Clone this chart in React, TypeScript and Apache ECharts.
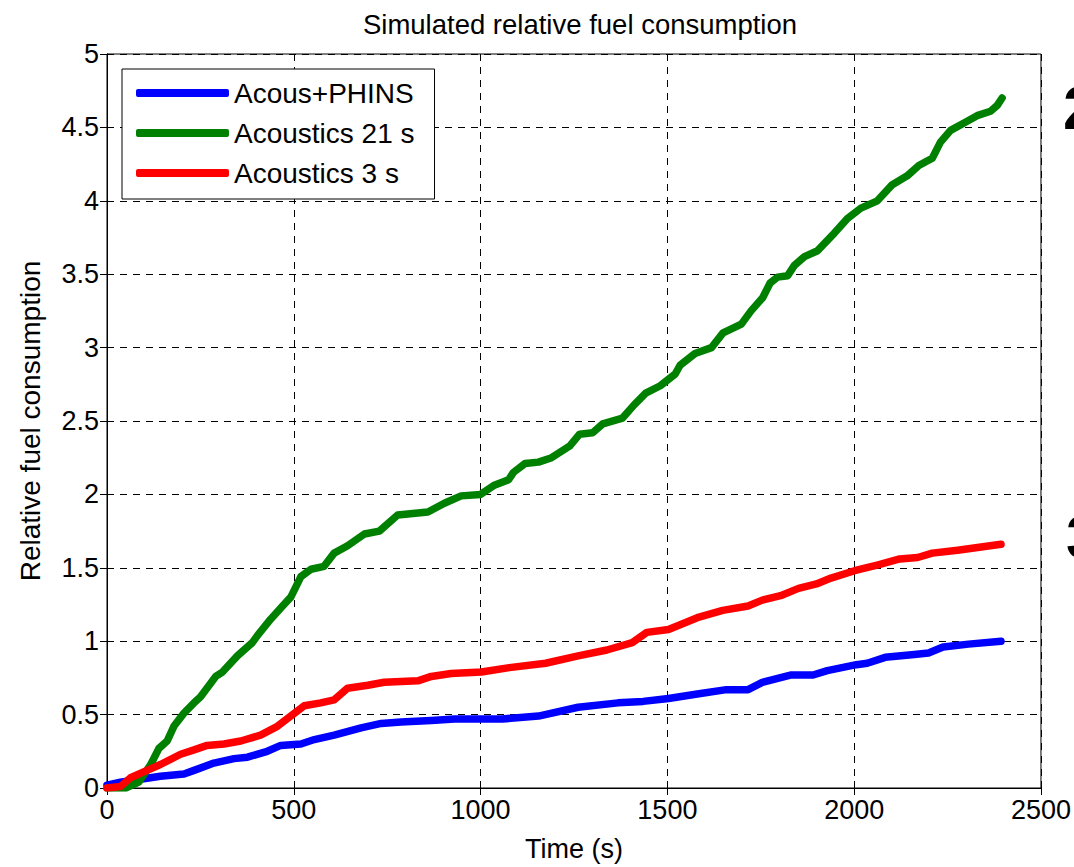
import React, { useEffect, useRef } from "react";
import * as echarts from "echarts";

const titleText = "Simulated relative fuel consumption";
const xName = "Time (s)";
const yName = "Relative fuel consumption";
const seriesNames = ["Acous+PHINS", "Acoustics 21 s", "Acoustics 3 s"];
const seriesColors = ["#0000FF", "#008000", "#FF0000"];

const blueT = [0, 36, 89, 143, 206, 233, 286, 340, 376, 429, 465, 519, 555, 608, 680, 734, 787, 868, 930, 1000, 1058, 1155, 1261, 1368, 1435, 1503, 1580, 1658, 1716, 1754, 1832, 1890, 1928, 2006, 2035, 2083, 2161, 2199, 2238, 2306, 2393];
const blueV = [0.02, 0.04, 0.06, 0.08, 0.095, 0.12, 0.17, 0.2, 0.21, 0.25, 0.29, 0.3, 0.33, 0.36, 0.41, 0.44, 0.45, 0.46, 0.47, 0.47, 0.47, 0.49, 0.55, 0.58, 0.59, 0.61, 0.64, 0.67, 0.67, 0.72, 0.77, 0.77, 0.8, 0.84, 0.85, 0.89, 0.91, 0.92, 0.96, 0.98, 1.0];

const greenT = [0, 50, 85, 116, 139, 161, 179, 206, 233, 250, 291, 309, 349, 389, 403, 438, 470, 492, 519, 546, 581, 608, 644, 689, 729, 778, 859, 903, 948, 1000, 1035, 1075, 1088, 1119, 1155, 1190, 1239, 1265, 1300, 1327, 1380, 1411, 1442, 1481, 1521, 1534, 1574, 1618, 1649, 1698, 1724, 1755, 1775, 1795, 1822, 1840, 1867, 1902, 1947, 1982, 2018, 2062, 2102, 2142, 2173, 2209, 2231, 2258, 2294, 2329, 2365, 2383, 2396];
const greenV = [0, 0, 0.04, 0.155, 0.27, 0.32, 0.42, 0.51, 0.58, 0.62, 0.76, 0.79, 0.9, 0.99, 1.04, 1.15, 1.24, 1.3, 1.44, 1.49, 1.51, 1.6, 1.65, 1.73, 1.75, 1.86, 1.88, 1.94, 1.99, 2.0, 2.06, 2.1, 2.15, 2.21, 2.22, 2.25, 2.33, 2.41, 2.42, 2.48, 2.52, 2.61, 2.69, 2.74, 2.82, 2.88, 2.96, 3.0, 3.1, 3.16, 3.25, 3.34, 3.44, 3.48, 3.49, 3.56, 3.62, 3.66, 3.78, 3.88, 3.95, 4.0, 4.11, 4.17, 4.24, 4.29, 4.4, 4.48, 4.53, 4.58, 4.61, 4.65, 4.7];

const redT = [0, 36, 63, 98, 143, 197, 233, 268, 313, 358, 411, 456, 492, 528, 572, 608, 644, 698, 742, 832, 868, 921, 1002, 1077, 1174, 1261, 1338, 1406, 1445, 1503, 1580, 1648, 1716, 1754, 1803, 1851, 1899, 1938, 2001, 2064, 2122, 2170, 2209, 2277, 2335, 2393];
const redV = [0, 0.01, 0.07, 0.11, 0.16, 0.23, 0.26, 0.29, 0.3, 0.32, 0.36, 0.42, 0.49, 0.56, 0.58, 0.6, 0.68, 0.7, 0.72, 0.73, 0.76, 0.78, 0.79, 0.82, 0.85, 0.9, 0.94, 0.99, 1.06, 1.08, 1.16, 1.21, 1.24, 1.28, 1.31, 1.36, 1.39, 1.43, 1.48, 1.52, 1.56, 1.57, 1.6, 1.62, 1.64, 1.66];

const xMin = 0, xMax = 2500, xStep = 500;
const yMin = 0, yMax = 5, yStep = 0.5;

const FONT = "'Liberation Sans', Arial, Helvetica, sans-serif";
const FS = 27;

const pairs = (t: number[], v: number[]) => t.map((x, i) => [x, v[i]]);

export default function App() {
  const ref = useRef<HTMLDivElement>(null);
  useEffect(() => {
    if (!ref.current) return;
    const chart = echarts.init(ref.current, null, { renderer: "svg" });
    const grid = { left: 107, right: 30, top: 54, bottom: 75 };
    const dash = { color: "#000", width: 1, type: [7, 6] as any };
    const common = {
      type: "value" as const,
      axisLine: { show: true, lineStyle: { color: "#000", width: 1 } },
      axisTick: { show: true, inside: true, length: 7, lineStyle: { color: "#000" } },
    };
    const datas = [pairs(blueT, blueV), pairs(greenT, greenV), pairs(redT, redV)];
    chart.setOption({
      animation: false,
      backgroundColor: "#fff",
      title: {
        text: titleText,
        left: 575,
        textAlign: "center",
        top: 5,
        textStyle: { fontFamily: FONT, fontSize: 27.5, fontWeight: "normal", color: "#000" },
      },
      grid: { ...grid, show: true, borderColor: "#000", borderWidth: 1 },
      legend: {
        orient: "vertical",
        left: 122,
        top: 69,
        data: seriesNames,
        icon: "roundRect",
        itemWidth: 93,
        itemHeight: 8,
        itemGap: 12,
        padding: [10, 20, 12, 14],
        borderColor: "#000",
        borderWidth: 1,
        backgroundColor: "#fff",
        textStyle: { fontFamily: FONT, fontSize: 28, color: "#000", lineHeight: 28 },
      },
      xAxis: [
        {
          ...common,
          min: xMin, max: xMax, interval: xStep,
          position: "bottom",
          name: xName,
          nameLocation: "middle",
          nameGap: 47,
          nameTextStyle: { fontFamily: FONT, fontSize: FS, color: "#000" },
          axisLabel: { fontFamily: FONT, fontSize: FS, color: "#000", margin: 8, formatter: (v: number) => String(v) },
          splitLine: { show: true, lineStyle: dash },
        },
        {
          ...common,
          min: xMin, max: xMax, interval: xStep,
          position: "top",
          axisLabel: { show: false },
          splitLine: { show: false },
        },
      ],
      yAxis: [
        {
          ...common,
          min: yMin, max: yMax, interval: yStep,
          position: "left",
          name: yName,
          nameLocation: "middle",
          nameGap: 63,
          nameTextStyle: { fontFamily: FONT, fontSize: 28, color: "#000" },
          axisLabel: { fontFamily: FONT, fontSize: FS, color: "#000", margin: 8, formatter: (v: number) => String(v) },
          splitLine: { show: true, lineStyle: dash },
        },
        {
          ...common,
          min: yMin, max: yMax, interval: yStep,
          position: "right",
          axisLabel: { show: false },
          splitLine: { show: false },
        },
      ],
      series: seriesNames.map((name, i) => ({
        name,
        type: "line",
        data: datas[i],
        showSymbol: false,
        symbol: "none",
        color: seriesColors[i],
        lineStyle: { color: seriesColors[i], width: 7.5, cap: "round", join: "round" },
        z: 2 + i,
      })),
      graphic: [
        {
          type: "text",
          left: 1063,
          top: 76,
          style: { text: "2", fontFamily: FONT, fontSize: 62, fontWeight: "bold", fill: "#000" },
        },
        {
          type: "text",
          left: 1066,
          top: 505,
          style: { text: "3", fontFamily: FONT, fontSize: 62, fontWeight: "bold", fill: "#000" },
        },
      ],
    });
    return () => chart.dispose();
  }, []);
  return (
    <div
      ref={ref}
      style={{ position: "absolute", left: 0, top: 0, width: 1074, height: 867, background: "#fff" }}
    />
  );
}
